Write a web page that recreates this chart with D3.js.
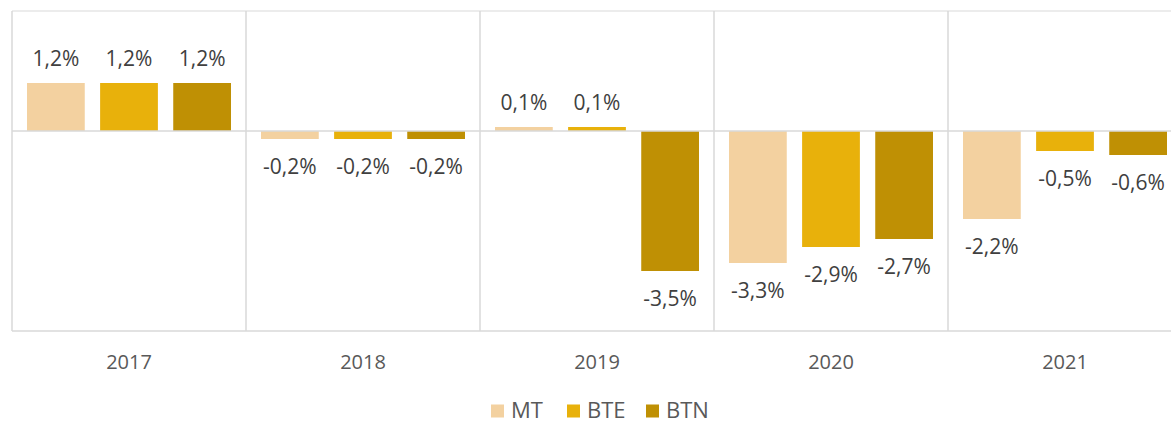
<!DOCTYPE html>
<html><head><meta charset="utf-8">
<script src="https://cdn.jsdelivr.net/npm/d3@7"></script>
<style>body{margin:0;background:#fff}svg{display:block}text{font-family:"Open Sans",sans-serif}</style>
</head><body><svg id="c" width="1171" height="424"></svg>
<script>
const years = ["2017","2018","2019","2020","2021"];
const seriesNames = ["MT","BTE","BTN"];
const MT  = [1.2, -0.2, 0.1, -3.3, -2.2];
const BTE = [1.2, -0.2, 0.1, -2.9, -0.5];
const BTN = [1.2, -0.2, -3.5, -2.7, -0.6];
const colors = ["#F3D1A0","#E8B10B","#BF9004"];
const seriesVals = [MT, BTE, BTN];

const svg = d3.select("#c");
const plotLeft = 12, plotTop = 11, plotBottom = 331, step = 234;
const x = d3.scaleBand().domain(years).range([plotLeft, plotLeft + step*years.length]).padding(0);
const xs = d3.scaleBand().domain(seriesNames).range([15, 219]).paddingInner(0.21);
const y = d3.scaleLinear().domain([-5, 3]).range([plotBottom, plotTop]);
const grid = "#d9d9d9";

svg.append("line").attr("x1", plotLeft).attr("x2", 1171).attr("y1", plotTop).attr("y2", plotTop).attr("stroke", grid);
svg.append("line").attr("x1", plotLeft).attr("x2", 1171).attr("y1", plotBottom).attr("y2", plotBottom).attr("stroke", grid).attr("stroke-width",1.5);
svg.selectAll(".sep").data(years).enter().append("line")
  .attr("x1", d => x(d)).attr("x2", d => x(d)).attr("y1", plotTop).attr("y2", plotBottom)
  .attr("stroke", grid).attr("stroke-width", 1.5);

const data = [];
years.forEach((yr, i) => seriesNames.forEach((s, j) => data.push({yr, s, j, v: seriesVals[j][i]})));

svg.selectAll(".bar").data(data).enter().append("rect")
  .attr("x", d => x(d.yr) + xs(d.s)).attr("width", xs.bandwidth())
  .attr("y", d => y(Math.max(0, d.v))).attr("height", d => Math.abs(y(d.v) - y(0)))
  .attr("fill", d => colors[d.j]);

svg.append("line").attr("x1", plotLeft).attr("x2", 1171).attr("y1", y(0)).attr("y2", y(0)).attr("stroke", grid).attr("stroke-width",1.5);

const fmt = v => v.toFixed(1).replace(".", ",") + "%";
svg.selectAll(".lbl").data(data).enter().append("text")
  .attr("x", d => x(d.yr) + xs(d.s) + xs.bandwidth()/2)
  .attr("y", d => d.v >= 0 ? y(d.v) - 17.5 : y(d.v) + 35)
  .attr("text-anchor", "middle").attr("font-size", 21).attr("fill", "#404040")
  .text(d => fmt(d.v));

svg.selectAll(".yl").data(years).enter().append("text")
  .attr("x", d => x(d) + x.bandwidth()/2).attr("y", 368.5)
  .attr("text-anchor", "middle").attr("font-size", 20).attr("fill", "#595959")
  .text(d => d);

const legX = [491, 567, 646];
const lg = svg.selectAll(".lg").data(seriesNames).enter().append("g")
  .attr("transform", (d,i) => `translate(${legX[i]},411)`);
lg.append("rect").attr("x", 0).attr("y", -6.5).attr("width", 13).attr("height", 13).attr("fill", (d,i) => colors[i]);
lg.append("text").attr("x", 20).attr("y", 7).attr("font-size", 22).attr("fill", "#595959").text(d => d);
</script></body></html>
